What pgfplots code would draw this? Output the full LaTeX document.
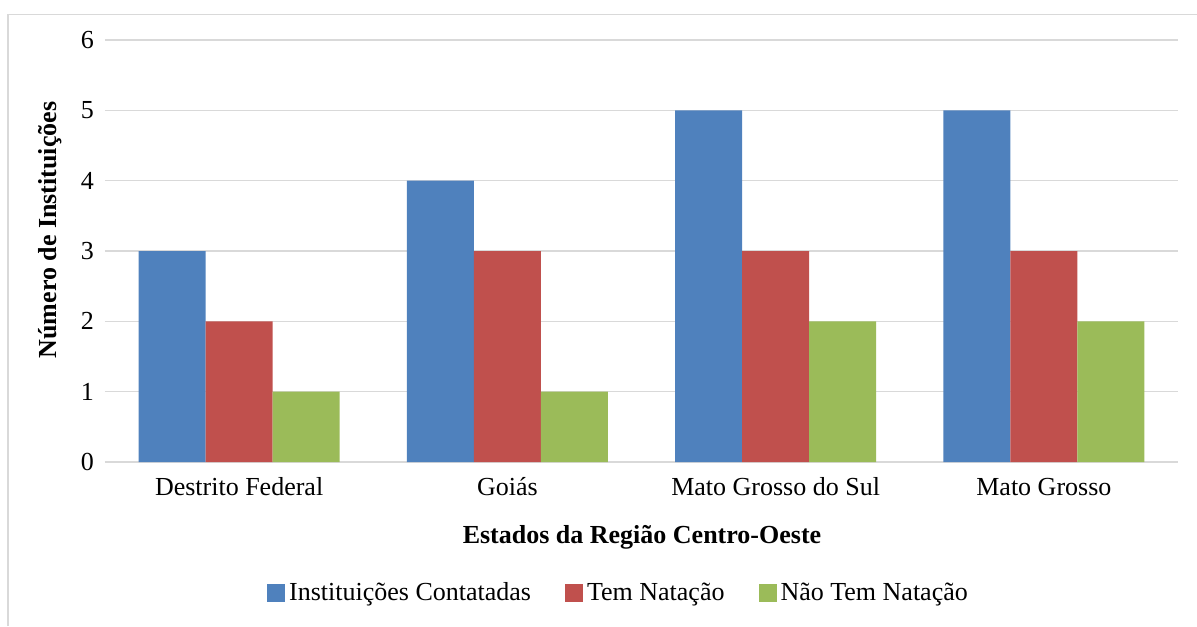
\documentclass[border=0pt]{standalone}
\usepackage{pgfplots}
\pgfplotsset{compat=1.18}
\usepackage{fontspec}
\setmainfont{Liberation Serif}
\definecolor{cblue}{HTML}{4F81BD}
\definecolor{cred}{HTML}{C0504D}
\definecolor{cgreen}{HTML}{9BBB59}
\definecolor{cgrid}{HTML}{D9D9D9}
\begin{document}
\begin{tikzpicture}
\useasboundingbox (-52.5pt,-82pt) rectangle (546pt,231pt);
\draw[cgrid,line width=0.8pt] (-48.5pt,-82pt) -- (-48.5pt,223.75pt) -- (546pt,223.75pt);
\begin{axis}[
  at={(0,0)}, anchor=south west,
  scale only axis, width=536.5pt, height=211pt,
  ymin=0, ymax=6, ytick={0,1,2,3,4,5,6},
  xmin=-0.5, xmax=3.5,
  xtick={0,1,2,3},
  xticklabels={Destrito Federal,Goiás,Mato Grosso do Sul,Mato Grosso},
  ymajorgrids, grid style={cgrid,line width=0.8pt},
  axis x line*=bottom, axis y line*=left,
  x axis line style={cgrid,line width=0.8pt,-},
  y axis line style={draw=none},
  major tick length=0pt,
  tick label style={font=\fontsize{13}{15}\selectfont, text=black},
  /pgf/number format/assume math mode=true,
  yticklabel style={xshift=-2pt},
  xticklabel style={yshift=-4pt, text height=9pt, text depth=3pt},
  ybar, bar width=0.25,
  every axis plot/.append style={draw=none},
  legend style={draw=none, at={(257.25pt,-65.5pt)}, anchor=center,
    font=\fontsize{13}{15}\selectfont, legend columns=3,
    /tikz/every even column/.append style={column sep=15pt}},
  legend image code/.code={\fill[#1] (0pt,-4.5pt) rectangle (9pt,4.5pt);},
  legend cell align=left,
  clip=false,
]
\addplot[fill=cblue, bar shift=-0.25] coordinates {(0,3) (1,4) (2,5) (3,5)};
\addplot[fill=cred, bar shift=0] coordinates {(0,2) (1,3) (2,3) (3,3)};
\addplot[fill=cgreen, bar shift=0.25] coordinates {(0,1) (1,1) (2,2) (3,2)};
\legend{Instituições Contatadas, Tem Natação, Não Tem Natação}
\end{axis}
\node[font=\bfseries\fontsize{13}{15}\selectfont] at (268.5pt,-37.5pt) {Estados da Região Centro-Oeste};
\node[font=\bfseries\fontsize{13}{15}\selectfont, rotate=90] at (-27.5pt,116pt) {Número de Instituições};
\end{tikzpicture}
\end{document}
